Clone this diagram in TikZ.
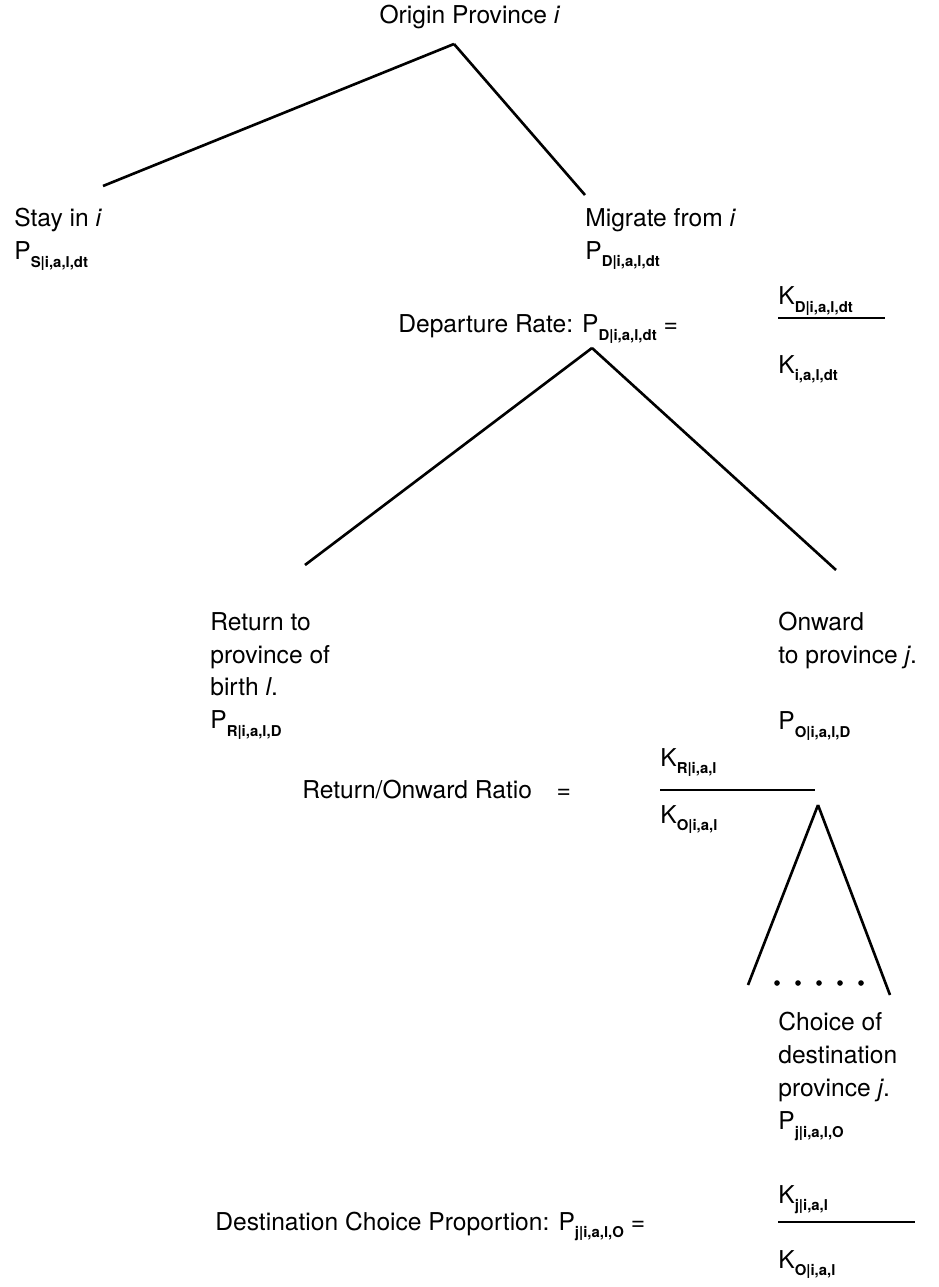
\documentclass[tikz,border=0pt]{standalone}
\usepackage{fontspec}
\setmainfont{TeX Gyre Heros}
\usetikzlibrary{positioning}
\newcommand{\psub}[2]{#1\raisebox{-0.6ex}{\fontsize{8.5}{9}\selectfont\bfseries #2}}

\begin{document}
\begin{tikzpicture}[
  x=0.02cm,y=-0.02cm,
  lbl/.style={inner sep=0pt,align=left,font=\fontsize{14}{18.7}\selectfont},
  tree/.style={line width=1.5pt},
  frac/.style={line width=0.6pt}
]
\useasboundingbox (0,0) rectangle (938,1287);

% Provincia de origen
\node[lbl,anchor=north] (orig) at (470,5) {Origin Province \textit{i}};
\coordinate (t1) at (454,44);
\coordinate (stayend) at (103,186);
\coordinate (migend) at (585,195);

\node[lbl,anchor=north west] (stay) at (14,208) {Stay in \textit{i}\\\psub{P}{S|i,a,l,dt}};
\node[lbl,anchor=north west] (mig) at (585,208) {Migrate from \textit{i}\\\psub{P}{D|i,a,l,dt}};

\draw[tree] (t1) -- (stayend);
\draw[tree] (t1) -- (migend);

% Departure rate
\node[lbl,anchor=base west] (dep) at (398,333) {Departure Rate: \psub{P}{D|i,a,l,dt} =};
\node[lbl,anchor=base west] (kd) at (778,305) {\psub{K}{D|i,a,l,dt}};
\node[lbl,anchor=base west] (kdt) at (778,373) {\psub{K}{i,a,l,dt}};
\coordinate (f1a) at (778,318);
\coordinate (f1b) at (885,318);
\draw[frac] (f1a) -- (f1b);

\coordinate (t2) at (592,348);
\coordinate (retend) at (305,565);
\coordinate (onend) at (836,570);
\draw[tree] (t2) -- (retend);
\draw[tree] (t2) -- (onend);

\node[lbl,anchor=north west] (ret) at (210,612) {Return to\\province of\\birth \textit{l}.\\\psub{P}{R|i,a,l,D}};
\node[lbl,anchor=north west] (onw) at (778,612) {Onward\\to province \textit{j}.\\[18.7pt]\psub{P}{O|i,a,l,D}};

% Return/Onward ratio
\node[lbl,anchor=base west] (rat) at (302,798) {Return/Onward Ratio\quad=};
\node[lbl,anchor=base west] (kr) at (660,766) {\psub{K}{R|i,a,l}};
\node[lbl,anchor=base west] (ko1) at (660,823) {\psub{K}{O|i,a,l}};
\coordinate (f2a) at (660,790);
\coordinate (f2b) at (815,790);
\draw[frac] (f2a) -- (f2b);

\coordinate (t3) at (818,805);
\coordinate (dl) at (748,985);
\coordinate (dr) at (890,995);
\draw[tree] (t3) -- (dl);
\draw[tree] (t3) -- (dr);
\foreach \i in {0,...,4}
  \fill (777+21*\i,983) circle (1.6pt);

\node[lbl,anchor=north west] (cho) at (778,1012) {Choice of\\destination\\province \textit{j}.\\\psub{P}{j|i,a,l,O}};

% Destination choice
\node[lbl,anchor=base west] (dcp) at (215,1230) {Destination Choice Proportion: \psub{P}{j|i,a,l,O} =};
\node[lbl,anchor=base west] (kj) at (778,1203) {\psub{K}{j|i,a,l}};
\node[lbl,anchor=base west] (ko2) at (778,1268) {\psub{K}{O|i,a,l}};
\coordinate (f3a) at (778,1222);
\coordinate (f3b) at (915,1222);
\draw[frac] (f3a) -- (f3b);

\end{tikzpicture}
\end{document}
